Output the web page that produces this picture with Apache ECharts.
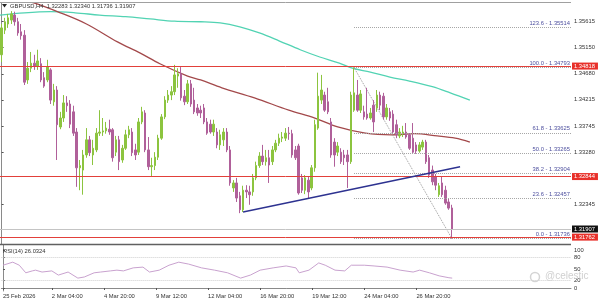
<!DOCTYPE html>
<html><head><meta charset="utf-8">
<script src="https://cdn.jsdelivr.net/npm/echarts@6/dist/echarts.min.js"></script>
<style>html,body{margin:0;padding:0;background:#fff}#c{width:600px;height:302px}</style>
</head><body><div id="c"></div>
<script>
// ---- data ----
const opens = [1.3502,1.3546,1.3557,1.3564,1.3573,1.3561,1.3543,1.3537,1.3457,1.3478,
 1.3487,1.3482,1.3486,1.3461,1.3457,1.3475,1.3418,1.3439,1.3373,1.3389,
 1.3416,1.3414,1.3400,1.3364,1.3300,1.3296,1.3323,1.3350,1.3323,1.3332,
 1.3362,1.3364,1.3366,1.3369,1.3368,1.3328,1.3350,1.3314,1.3335,1.3359,
 1.3364,1.3332,1.3328,1.3382,1.3398,1.3332,1.3302,1.3304,1.3319,1.3353,
 1.3391,1.3421,1.3430,1.3436,1.3464,1.3468,1.3428,1.3418,1.3450,1.3421,
 1.3407,1.3403,1.3407,1.3382,1.3378,1.3364,1.3364,1.3341,1.3350,1.3364,
 1.3332,1.3264,1.3273,1.3250,1.3225,1.3260,1.3257,1.3257,1.3282,1.3304,
 1.3321,1.3311,1.3318,1.3311,1.3332,1.3344,1.3353,1.3353,1.3362,1.3361,
 1.3332,1.3339,1.3282,1.3260,1.3278,1.3264,1.3300,1.3371,1.3421,1.3430,
 1.3418,1.3382,1.3346,1.3328,1.3328,1.3323,1.3323,1.3311,1.3403,1.3430,
 1.3403,1.3400,1.3396,1.3389,1.3412,1.3407,1.3430,1.3428,1.3391,1.3400,
 1.3396,1.3377,1.3357,1.3361,1.3364,1.3359,1.3353,1.3341,1.3330,1.3337,
 1.3346,1.3318,1.3296,1.3284,1.3252,1.3273,1.3260,1.3239,1.32283];
const closes = [1.3550,1.3561,1.3568,1.3575,1.3561,1.3541,1.3536,1.3453,1.3478,1.3487,
 1.3482,1.3491,1.3457,1.3446,1.3480,1.3421,1.3439,1.3377,1.3389,1.3416,
 1.3411,1.3378,1.3362,1.3300,1.3304,1.3323,1.3350,1.3327,1.3335,1.3362,
 1.3364,1.3366,1.3371,1.3364,1.3318,1.3350,1.3311,1.3335,1.3359,1.3368,
 1.3327,1.3323,1.3382,1.3400,1.3332,1.3302,1.3304,1.3319,1.3353,1.3391,
 1.3421,1.3430,1.3436,1.3466,1.3468,1.3425,1.3418,1.3450,1.3414,1.3400,
 1.3398,1.3398,1.3382,1.3362,1.3364,1.3378,1.3341,1.3359,1.3364,1.3332,
 1.3273,1.3273,1.3246,1.3225,1.3260,1.3257,1.3252,1.3282,1.3304,1.3321,
 1.3311,1.3318,1.3305,1.3332,1.3344,1.3353,1.3355,1.3362,1.3361,1.3323,
 1.3318,1.3255,1.3260,1.3282,1.3257,1.3300,1.3377,1.3428,1.3439,1.3403,
 1.3400,1.3323,1.3323,1.3339,1.3311,1.3318,1.3311,1.3430,1.3434,1.3403,
 1.3432,1.3391,1.3389,1.3398,1.3382,1.3430,1.3412,1.3391,1.3407,1.3389,
 1.3364,1.3359,1.3364,1.3364,1.3355,1.3335,1.3328,1.3330,1.3341,1.3346,
 1.3311,1.3287,1.3275,1.3269,1.3268,1.3252,1.3237,1.3228,1.31907];
const lows = [1.3489,1.3539,1.3550,1.3557,1.3554,1.3536,1.3529,1.3448,1.3450,1.3471,
 1.3475,1.3475,1.3453,1.3443,1.3453,1.3414,1.3411,1.3314,1.3369,1.3382,
 1.3400,1.3371,1.3357,1.3266,1.3260,1.3252,1.3318,1.3321,1.3305,1.3328,
 1.3357,1.3357,1.3361,1.3359,1.3311,1.3321,1.3296,1.3309,1.3332,1.3353,
 1.3321,1.3314,1.3323,1.3378,1.3328,1.3296,1.3284,1.3296,1.3314,1.3350,
 1.3387,1.3416,1.3421,1.3430,1.3443,1.3420,1.3412,1.3414,1.3409,1.3396,
 1.3393,1.3389,1.3378,1.3359,1.3361,1.3357,1.3335,1.3332,1.3339,1.3328,
 1.3268,1.3257,1.3239,1.3219,1.3221,1.3246,1.3234,1.3250,1.3278,1.3300,
 1.3305,1.3304,1.3273,1.3305,1.3328,1.3339,1.3346,1.3348,1.3350,1.3318,
 1.3314,1.3252,1.3255,1.3253,1.3246,1.3260,1.3293,1.3368,1.3414,1.3400,
 1.3396,1.3318,1.3302,1.3321,1.3307,1.3305,1.3264,1.3307,1.3400,1.3400,
 1.3398,1.3386,1.3386,1.3386,1.3364,1.3400,1.3403,1.3386,1.3386,1.3384,
 1.3361,1.3353,1.3353,1.3355,1.3352,1.3332,1.3325,1.3325,1.3327,1.3332,
 1.3307,1.3282,1.3269,1.3260,1.3248,1.3248,1.3234,1.3225,1.31736];
const highs = [1.3557,1.3568,1.3575,1.3580,1.3579,1.3568,1.3557,1.3546,1.3489,1.3507,
 1.3502,1.3511,1.3496,1.3471,1.3493,1.3478,1.3450,1.3446,1.3400,1.3430,
 1.3428,1.3421,1.3411,1.3371,1.3314,1.3332,1.3371,1.3357,1.3350,1.3371,
 1.3403,1.3389,1.3382,1.3386,1.3371,1.3357,1.3357,1.3341,1.3368,1.3375,
 1.3371,1.3343,1.3389,1.3409,1.3403,1.3355,1.3318,1.3328,1.3359,1.3396,
 1.3428,1.3439,1.3446,1.3484,1.3478,1.3480,1.3439,1.3457,1.3457,1.3443,
 1.3414,1.3411,1.3414,1.3389,1.3386,1.3386,1.3371,1.3368,1.3371,1.3371,
 1.3339,1.3278,1.3282,1.3257,1.3268,1.3269,1.3268,1.3289,1.3311,1.3328,
 1.3341,1.3332,1.3332,1.3339,1.3350,1.3361,1.3364,1.3371,1.3373,1.3368,
 1.3339,1.3343,1.3289,1.3287,1.3285,1.3305,1.3386,1.3470,1.3466,1.3436,
 1.3443,1.3389,1.3353,1.3346,1.3335,1.3332,1.3332,1.3436,1.34793,1.3457,
 1.3439,1.3411,1.3443,1.3407,1.3421,1.3439,1.3436,1.3434,1.3414,1.3407,
 1.3403,1.3386,1.3371,1.3375,1.3380,1.3362,1.3380,1.3346,1.3346,1.3350,
 1.3350,1.3323,1.3304,1.3289,1.3273,1.3284,1.3268,1.3246,1.32340];

// moving averages: [bar index, price]
const maFast = [[-0.5,1.3573],[7,1.3577],[15,1.3579],[22.5,1.3577],[30,1.3573],[38,1.3570],[45.5,1.3566],[53,1.3562],[61,1.3561],[67,1.3559],[73,1.3552],[79,1.3541],[85,1.3527],[91.5,1.3511],[97.5,1.3498],[103.5,1.3487],[107.5,1.3478],[113,1.3471],[119,1.3462],[125,1.3455],[132,1.3445],[137.5,1.3434],[143.5,1.3421]];
const maSlow = [[-0.5,1.3607],[5.6,1.3600],[9.6,1.3595],[18,1.3577],[26,1.3557],[35.5,1.3525],[42.5,1.3505],[48.5,1.3486],[57,1.3464],[61,1.3457],[67.5,1.3443],[77.5,1.3425],[88,1.3403],[96,1.3389],[103,1.3373],[111.5,1.3362],[119.5,1.3359],[126.5,1.3361],[133.5,1.3357],[139,1.3353],[143.5,1.3346]];

// RSI(14): [bar index, value]
const rsi = [[0,60],[3,68],[5,60],[7,40],[9,45],[10,47],[12,42],[15,45],[17,34],[20,42],[23,26],[25,29],[28,40],[30,42],[33,45],[35,47],[37,45],[40,53],[43,55],[45,42],[48,47],[51,60],[54,68],[57,63],[61,53],[65,47],[69,40],[73,26],[76,34],[79,47],[83,53],[87,58],[90,53],[91,40],[94,47],[97,66],[99,60],[102,47],[105,45],[107,60],[111,60],[114,58],[118,55],[122,47],[126,42],[128,47],[131,40],[134,32],[137,27],[138,26.03]];

const trendLine = [[74,1.3221],[140.5,1.3302]];
const fibSwing = [[108,1.34793],[138,1.31736]];
const fibNames = ['123.6','100.0','61.8','50.0','38.2','23.6','0.0'];
const fibPrices = [1.35514,1.34793,1.33625,1.33265,1.32904,1.32457,1.31736];
const redLevels = [1.34818,1.32844,1.31762];
const lastPrice = 1.31907;

const priceTicks = [1.35615,1.35150,1.34680,1.34215,1.33745,1.33280,1.32345];
const rsiTicks = [0,20,50,80,100];
const rsiLevels = [20,80];
const tickIndex = [0,15,31,47,63,79,95,111,127];
const tickLabels = ['25 Feb 2026','2 Mar 04:00','4 Mar 20:00','9 Mar 12:00','12 Mar 04:00','16 Mar 20:00','19 Mar 12:00','24 Mar 04:00','26 Mar 20:00'];

// ---- chart ----
const N = 175;
const cats = Array.from({length:N}, (_, i) => String(i));
const labelAt = {};
tickIndex.forEach((k, j) => { labelAt[k] = tickLabels[j]; });
const candles = opens.map((o, i) => [o, closes[i], lows[i], highs[i]]);
const FONT = 'Liberation Sans';
const FS = 5.8;
const BULL = '#8cc43f', BEAR = '#b0609a';

const chart = echarts.init(document.getElementById('c'), null, {renderer:'canvas', width:600, height:302});

function levelLine(v, color, boxColor) {
  return [
    {coord:[-0.5, v], lineStyle:{color:color, width:1, type:'solid'},
     label:{show:true, position:'end', distance:1, formatter: v.toFixed(5), backgroundColor:boxColor, color:'#fff',
            fontSize:FS, fontFamily:FONT, padding:[1,3,0,2]}},
    {coord:[N - 0.5, v]}
  ];
}
const priceLines = redLevels.map(v => levelLine(v, '#e2403a', '#e8302a'));
priceLines.push(levelLine(lastPrice, '#c4c4c4', '#111'));

const fibLines = fibPrices.map((p, k) => [
  {coord:[fibSwing[0][0], p],
   label:{show:true, position:'insideEndTop', distance:1, formatter: fibNames[k] + ' - ' + p.toFixed(5),
          color:'#4d4f9e', fontSize:FS, fontFamily:FONT}},
  {coord:[N - 0.5, p]}
]);

chart.setOption({
  animation:false,
  backgroundColor:'#fff',
  grid:[{left:0, top:3, width:571, height:241}, {left:0, top:245, width:571, height:46}],
  xAxis:[
    {type:'category', gridIndex:0, data:cats, boundaryGap:true, axisLine:{show:false}, axisTick:{show:false}, axisLabel:{show:false}, splitLine:{show:false}},
    {type:'category', gridIndex:1, data:cats, boundaryGap:true,
     axisLine:{show:true, lineStyle:{color:'#8a8a8a', width:1}},
     axisTick:{show:true, alignWithLabel:true, interval:(i) => (i in labelAt), length:2, lineStyle:{color:'#555'}},
     axisLabel:{show:true, interval:(i) => (i in labelAt), formatter:(v, i) => labelAt[i] || '', align:'left', margin:2,
                fontSize:FS, fontFamily:FONT, color:'#333'},
     splitLine:{show:false}},
    {type:'value', gridIndex:0, min:-0.5, max:N - 0.5, show:false},
    {type:'value', gridIndex:1, min:-0.5, max:N - 0.5, show:false}
  ],
  yAxis:[
    {type:'value', gridIndex:0, position:'right', min:1.31639, max:1.35945, splitLine:{show:false},
     axisLine:{show:true, lineStyle:{color:'#8a8a8a'}},
     axisTick:{show:true, length:2, customValues:priceTicks, lineStyle:{color:'#555'}},
     axisLabel:{customValues:priceTicks, formatter:(v) => v.toFixed(5), margin:3, fontSize:FS, fontFamily:FONT, color:'#333'}},
    {type:'value', gridIndex:1, position:'right', min:-7.9, max:113.2, splitLine:{show:false},
     axisLine:{show:true, lineStyle:{color:'#8a8a8a'}},
     axisTick:{show:true, length:2, customValues:rsiTicks, lineStyle:{color:'#555'}},
     axisLabel:{customValues:rsiTicks, margin:3, fontSize:FS, fontFamily:FONT, color:'#333'}}
  ],
  series:[
    {type:'line', xAxisIndex:2, yAxisIndex:0, data:[], z:2,
     markLine:{silent:true, symbol:['none','none'], animation:false, data:priceLines}},
    {type:'candlestick', xAxisIndex:0, yAxisIndex:0, data:candles, barWidth:2, z:4,
     itemStyle:{color:BULL, color0:BEAR, borderColor:BULL, borderColor0:BEAR, borderWidth:1}},
    {type:'line', xAxisIndex:2, yAxisIndex:0, data:maFast, smooth:0.35, showSymbol:false, symbol:'none', z:3,
     lineStyle:{color:'#52d3b3', width:1.3}},
    {type:'line', xAxisIndex:2, yAxisIndex:0, data:maSlow, smooth:0.35, showSymbol:false, symbol:'none', z:3,
     lineStyle:{color:'#a3494b', width:1.3}},
    {type:'line', xAxisIndex:2, yAxisIndex:0, data:fibSwing, showSymbol:false, symbol:'none', z:3,
     lineStyle:{color:'#9a9a9a', width:1, type:'dotted'},
     markLine:{silent:true, symbol:['none','none'], animation:false,
               lineStyle:{color:'#a6a6a6', width:1, type:'dotted'}, data:fibLines}},
    {type:'line', xAxisIndex:2, yAxisIndex:0, data:trendLine, showSymbol:false, symbol:'none', z:5,
     lineStyle:{color:'#2d3290', width:1.4}},
    {type:'line', xAxisIndex:3, yAxisIndex:1, data:rsi, showSymbol:false, symbol:'none', z:3,
     lineStyle:{color:'#c9a2cf', width:1},
     markLine:{silent:true, symbol:['none','none'], animation:false, label:{show:false},
               lineStyle:{color:'#cfcfcf', width:1, type:'dotted'},
               data:rsiLevels.map(v => ({yAxis:v}))}}
  ],
  graphic:[
    {type:'line', shape:{x1:0, y1:2.5, x2:571, y2:2.5}, style:{stroke:'#a0a0a0', lineWidth:1}, z:10},
    {type:'line', shape:{x1:0, y1:244.5, x2:571, y2:244.5}, style:{stroke:'#606060', lineWidth:1.6}, z:10},
    {type:'polygon', shape:{points:[[2,4],[7,4],[4.5,7.5]]}, style:{fill:'#222'}, z:10},
    {type:'text', x:10, y:3, style:{text:'GBPUSD,H4  1.32283 1.32340 1.31736 1.31907', font:FS + 'px ' + FONT, fill:'#333'}, z:10},
    {type:'text', x:3, y:248, style:{text:'RSI(14) 26.0324', font:FS + 'px ' + FONT, fill:'#333'}, z:10},
    {type:'circle', shape:{cx:535, cy:277, r:4.5}, style:{fill:'none', stroke:'#d4d4d4', lineWidth:1.5}, z:10},
    {type:'text', x:545, y:271, style:{text:'@celestic', font:'10px ' + FONT, fill:'#d0d0d0'}, z:10}
  ]
});
</script></body></html>
